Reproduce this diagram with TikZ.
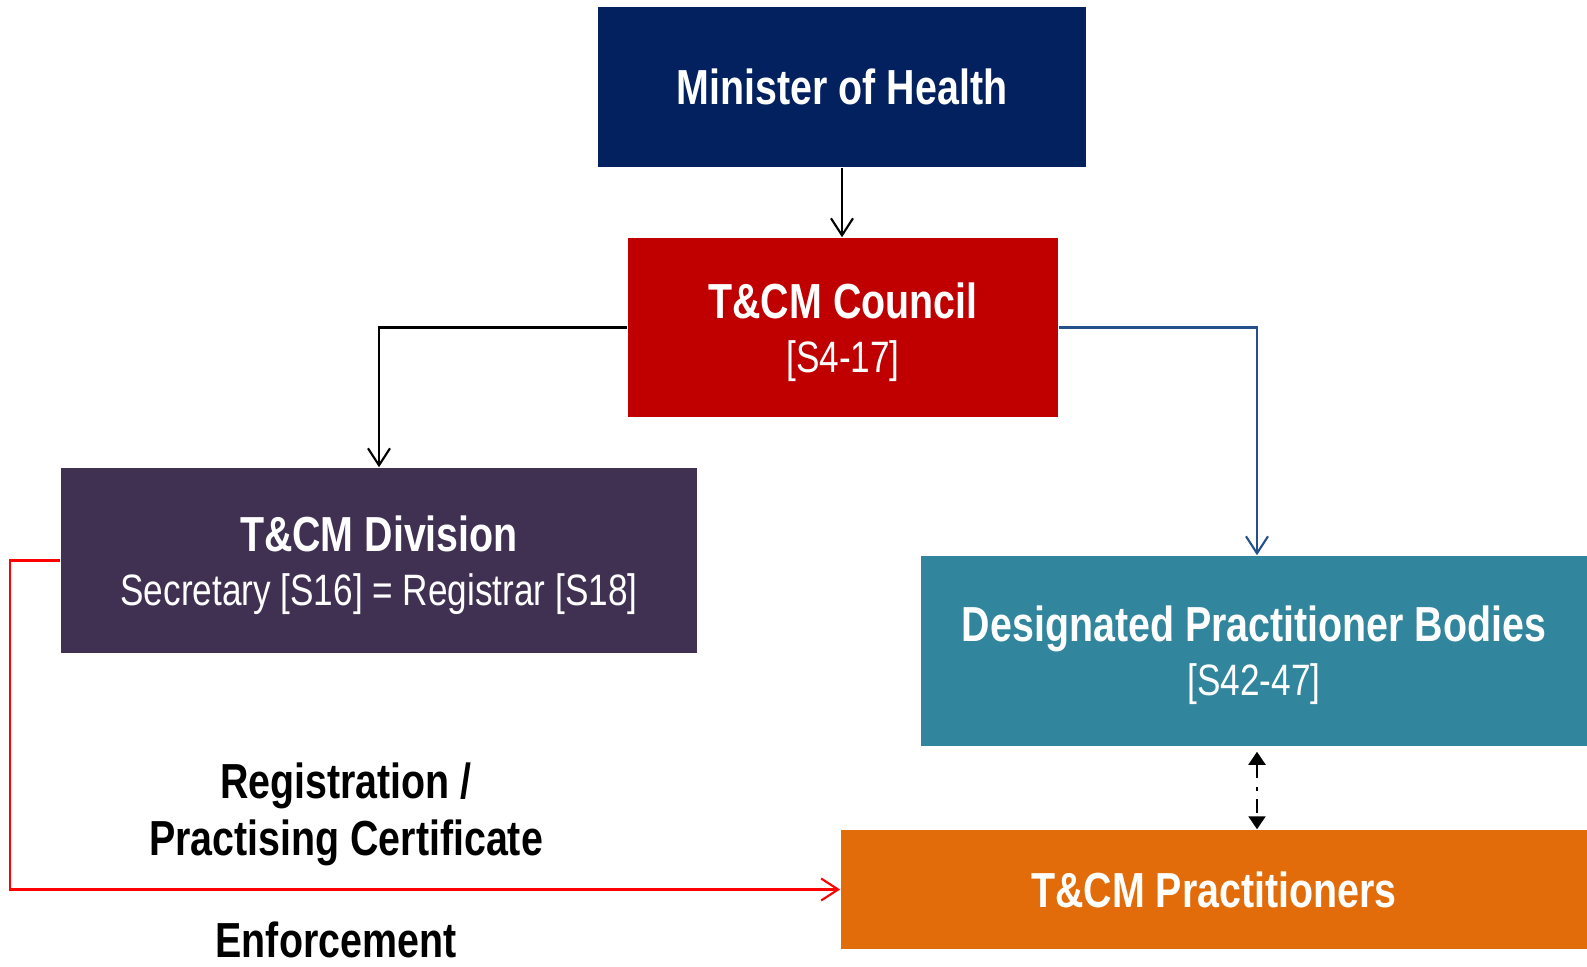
\documentclass[tikz,border=0pt]{standalone}
\usepackage{fontspec}
\setmainfont[FakeStretch=0.8]{Liberation Sans}
\usetikzlibrary{arrows.meta}
\definecolor{navybox}{HTML}{03215F}
\definecolor{redbox}{HTML}{C00000}
\definecolor{plumbox}{HTML}{403152}
\definecolor{tealbox}{HTML}{31859C}
\definecolor{orangebox}{HTML}{E36C0A}
\definecolor{blueline}{HTML}{24508C}
\newcommand{\bigtxt}{\fontsize{14}{15.3}\selectfont\bfseries}
\newcommand{\smalltxt}{\fontsize{12.5}{15.3}\selectfont\mdseries}
\begin{document}
\begin{tikzpicture}[x=0.01cm,y=-0.01cm,
  box/.style={fill=#1, text=white, align=center, inner sep=0pt, text depth=-1pt, font=\bigtxt},
  link/.style={line width=0.6pt, -{Straight Barb[length=1.7mm,width=2.2mm]}},
  lbl/.style={align=center, inner sep=0pt, font=\bigtxt}]
\useasboundingbox (0,0) rectangle (1587,966);
\node[box=navybox, minimum width=4.88cm, minimum height=1.6cm] (minister) at (842,87) {Minister of Health};
\node[box=redbox, minimum width=4.3cm, minimum height=1.79cm] (council) at (843,327.5) {T\&CM Council\\{\smalltxt [S4-17]}};
\node[box=plumbox, minimum width=6.36cm, minimum height=1.85cm] (division) at (379,560.5) {T\&CM Division\\{\smalltxt Secretary [S16] = Registrar [S18]}};
\node[box=tealbox, minimum width=6.66cm, minimum height=1.9cm] (bodies) at (1254,651) {Designated Practitioner Bodies\\{\smalltxt [S42-47]}};
\node[box=orangebox, minimum width=7.46cm, minimum height=1.19cm] (practitioners) at (1214,889.5) {T\&CM Practitioners};
\node[lbl, font=\fontsize{14}{16.2}\selectfont\bfseries] (registration) at (346,814) {Registration /\\Practising Certificate};
\node[lbl] (enforcement) at (336,940) {Enforcement};
\draw[link] (minister.south) -- (minister.south |- council.north);
\draw[link] (council.west) -| (division.north);
\draw[link, blueline] (council.east) -| ([xshift=0.03cm]bodies.north);
\draw[line width=0.6pt, red, -{Straight Barb[length=1.7mm,width=2.2mm]}] (division.west) -- ++(-50,0) |- (practitioners.west);
\draw[line width=0.6pt, dash pattern=on 4pt off 2.5pt on 1pt off 2.5pt, {Triangle[length=1.3mm,width=1.7mm]}-{Triangle[length=1.3mm,width=1.7mm]}] ([xshift=0.03cm,yshift=-0.5mm]bodies.south) -- ([xshift=0.03cm]bodies.south |- practitioners.north);
\end{tikzpicture}
\end{document}
